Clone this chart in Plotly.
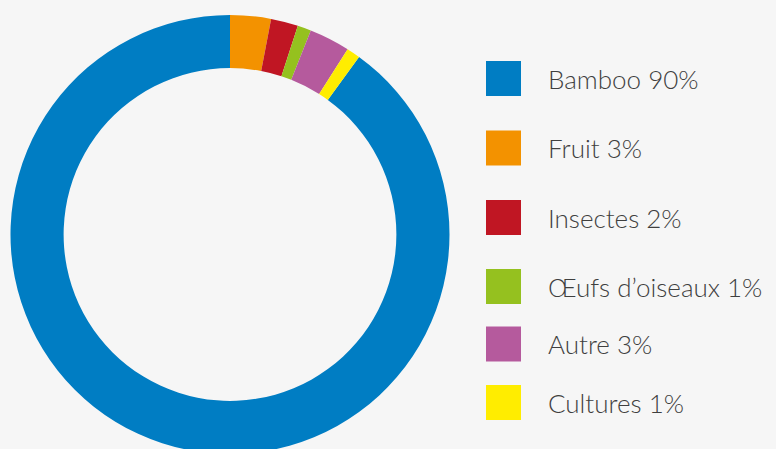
import plotly.graph_objects as go

labels = ["Bamboo", "Fruit", "Insectes", "Œufs d’oiseaux", "Autre", "Cultures"]
values = [90, 3, 2, 1, 3, 1]
colors = ["#007DC3", "#F39200", "#C01623", "#95C11F", "#B55A9D", "#FFED00"]
legend_text = ["Bamboo 90%", "Fruit 3%", "Insectes 2%", "Œufs d’oiseaux 1%", "Autre 3%", "Cultures 1%"]
legend_y_px = [78.5, 148, 217.5, 286.5, 344, 402.5]

W, H = 776, 469
BG = "#F6F6F6"

fig = go.Figure(go.Pie(
    labels=labels, values=values, hole=0.758, sort=False,
    direction="clockwise", rotation=36,
    marker=dict(colors=colors, line=dict(width=0)),
    textinfo="none", hoverinfo="label+percent",
    domain=dict(x=[10.5 / W, 449.5 / W], y=[0, 1]),
    showlegend=False,
))

shapes, annotations = [], []
for txt, col, py in zip(legend_text, colors, legend_y_px):
    shapes.append(dict(type="rect", xref="paper", yref="paper",
                       x0=486 / W, x1=521 / W,
                       y0=1 - (py + 17.5) / H, y1=1 - (py - 17.5) / H,
                       fillcolor=col, line=dict(width=0)))
    annotations.append(dict(text=txt, xref="paper", yref="paper",
                            x=546 / W, y=1 - py / H, xanchor="left", yanchor="middle",
                            showarrow=False,
                            font=dict(family="Lato", size=26, weight=300, color="#3F3F3F")))

fig.update_layout(
    width=W, height=H, margin=dict(l=0, r=0, t=0, b=0),
    paper_bgcolor=BG, plot_bgcolor=BG,
    shapes=shapes, annotations=annotations,
)

fig.write_html("out.html", config={"displayModeBar": False},
               post_script="document.body.style.margin='0';document.body.style.overflow='hidden';document.documentElement.style.overflow='hidden';document.body.style.background='%s';" % BG)
